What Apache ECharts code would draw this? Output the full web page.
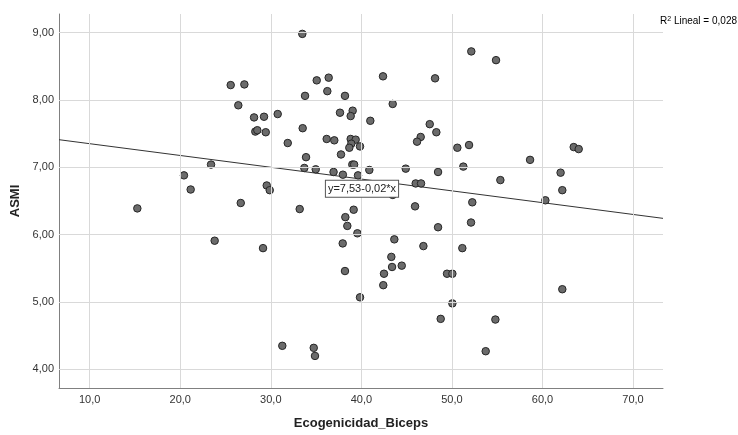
<!DOCTYPE html>
<html>
<head>
<meta charset="utf-8">
<script src="https://cdn.jsdelivr.net/npm/echarts@6/dist/echarts.min.js"></script>
<style>html,body{margin:0;padding:0;background:#fff}#c{width:738px;height:435px}</style>
</head>
<body>
<div id="c"></div>
<script>
// Data
const xValues = [33.48,25.57,27.08,35.07,36.39,33.78,36.24,38.19,26.41,28.15,29.25,30.76,28.29,28.51,29.44,33.52,31.87,37.64,39.04,38.82,
  36.17,37.01,38.82,39.37,38.89,38.67,39.85,37.75,33.89,33.70,34.96,36.93,37.96,39.63,39.0,39.2,40.88,23.40,20.41,21.15,
  29.55,29.88,26.68,15.26,33.19,39.15,52.14,54.87,42.39,48.14,43.46,40.99,47.55,48.28,46.55,46.15,50.6,51.89,63.45,64.0,
  58.63,44.9,51.26,48.47,62.0,46.0,46.59,55.35,62.19,43.46,52.25,60.32,45.93,38.23,38.45,39.56,37.94,48.47,52.11,43.64,
  46.85,51.15,43.31,43.39,44.46,42.5,42.42,38.19,39.85,49.46,50.05,50.05,62.19,48.76,54.8,53.73,23.8,29.14,31.27,34.74,34.88];
const yValues = [8.98,8.22,8.23,8.29,8.33,8.06,8.13,8.06,7.92,7.74,7.75,7.79,7.53,7.55,7.52,7.58,7.36,7.81,7.84,7.76,
  7.42,7.40,7.42,7.41,7.35,7.29,7.31,7.19,7.15,6.99,6.97,6.93,6.89,6.88,7.04,7.04,6.96,7.04,6.88,6.67,
  6.73,6.66,6.47,6.39,6.38,6.37,8.72,8.59,8.35,8.32,7.94,7.69,7.64,7.52,7.45,7.38,7.29,7.33,7.30,7.27,
  7.11,6.98,7.01,6.93,6.92,6.76,6.76,6.81,6.66,6.59,6.48,6.51,6.42,6.26,6.13,6.02,5.87,6.11,6.18,5.93,
  5.83,5.80,5.67,5.52,5.54,5.42,5.25,5.46,5.07,5.42,5.42,4.98,5.19,4.75,4.74,4.27,5.91,5.80,4.35,4.32,4.20];
const xTicks = [10,20,30,40,50,60,70];
const yTicks = [4,5,6,7,8,9];
const fitIntercept = 7.525;
const fitSlope = -0.0175;
const fitLabel = 'y=7,53-0,02*x';
const r2Label = '0,028';

const X_MIN = 6.61, X_MAX = 73.31, Y_MIN = 3.724, Y_MAX = 9.275;
const points = xValues.map((x, i) => [x, yValues[i]]);
const fitLine = [[X_MIN, fitIntercept + fitSlope * X_MIN], [X_MAX, fitIntercept + fitSlope * X_MAX]];
const FONT = '"Liberation Sans", Arial, sans-serif';
const gridColor = '#d9d9d9';

const chart = echarts.init(document.getElementById('c'), null, {renderer: 'canvas'});
chart.setOption({
  animation: false,
  backgroundColor: '#fff',
  textStyle: {fontFamily: FONT},
  grid: {left: 59, right: 75, top: 14, bottom: 44, containLabel: false},
  xAxis: {
    type: 'value', min: X_MIN, max: X_MAX,
    name: 'Ecogenicidad_Biceps', nameLocation: 'middle', nameGap: 29,
    nameTextStyle: {fontFamily: FONT, fontSize: 13, fontWeight: 'bold', color: '#222'},
    axisLine: {show: true, onZero: false, lineStyle: {color: '#808080', width: 1}},
    axisTick: {show: false},
    splitLine: {show: false},
    axisLabel: {customValues: xTicks, margin: 6, fontFamily: FONT, fontSize: 11, color: '#333',
      formatter: v => v.toFixed(1).replace('.', ',')}
  },
  yAxis: {
    type: 'value', min: Y_MIN, max: Y_MAX,
    name: 'ASMI', nameLocation: 'middle', nameGap: 33,
    nameTextStyle: {fontFamily: FONT, fontSize: 13, fontWeight: 'bold', color: '#222'},
    axisLine: {show: true, onZero: false, lineStyle: {color: '#808080', width: 1}},
    axisTick: {show: false},
    splitLine: {show: false},
    axisLabel: {customValues: yTicks, margin: 5, fontFamily: FONT, fontSize: 11, color: '#333',
      formatter: v => v.toFixed(2).replace('.', ',')}
  },
  series: [
    {
      type: 'line', data: [], z: 1, silent: true,
      markLine: {
        silent: true, symbol: 'none', animation: false,
        label: {show: false},
        lineStyle: {color: gridColor, width: 1, type: 'solid'},
        data: xTicks.map(v => ({xAxis: v})).concat(yTicks.map(v => ({yAxis: v})))
      }
    },
    {
      type: 'line', data: fitLine, z: 2, silent: true, symbol: 'none',
      lineStyle: {color: '#333', width: 1},
      markPoint: {
        symbol: 'rect', symbolSize: 0, silent: true, z: 10,
        data: [{coord: [40.07, 6.68], value: fitLabel}],
        label: {show: true, position: 'inside', formatter: fitLabel, fontFamily: FONT, fontSize: 11, color: '#222',
          backgroundColor: '#fff', borderColor: '#555', borderWidth: 1, padding: [3, 2, 2, 2]}
      }
    },
    {
      type: 'scatter', data: points, z: 3, symbol: 'circle', symbolSize: 7.5,
      itemStyle: {color: '#6b6b6b', borderColor: '#262626', borderWidth: 1, opacity: 1}
    }
  ],
  graphic: [{
    type: 'text', right: 1, top: 16, z: 20,
    style: {
      text: '{r|R}{s|2}{r| Lineal = ' + r2Label + '}',
      rich: {
        r: {fontFamily: FONT, fontSize: 10, color: '#222'},
        s: {fontFamily: FONT, fontSize: 7, color: '#222', verticalAlign: 'top', padding: [0, 0, 4, 0]}
      }
    }
  }]
});
</script>
</body>
</html>
